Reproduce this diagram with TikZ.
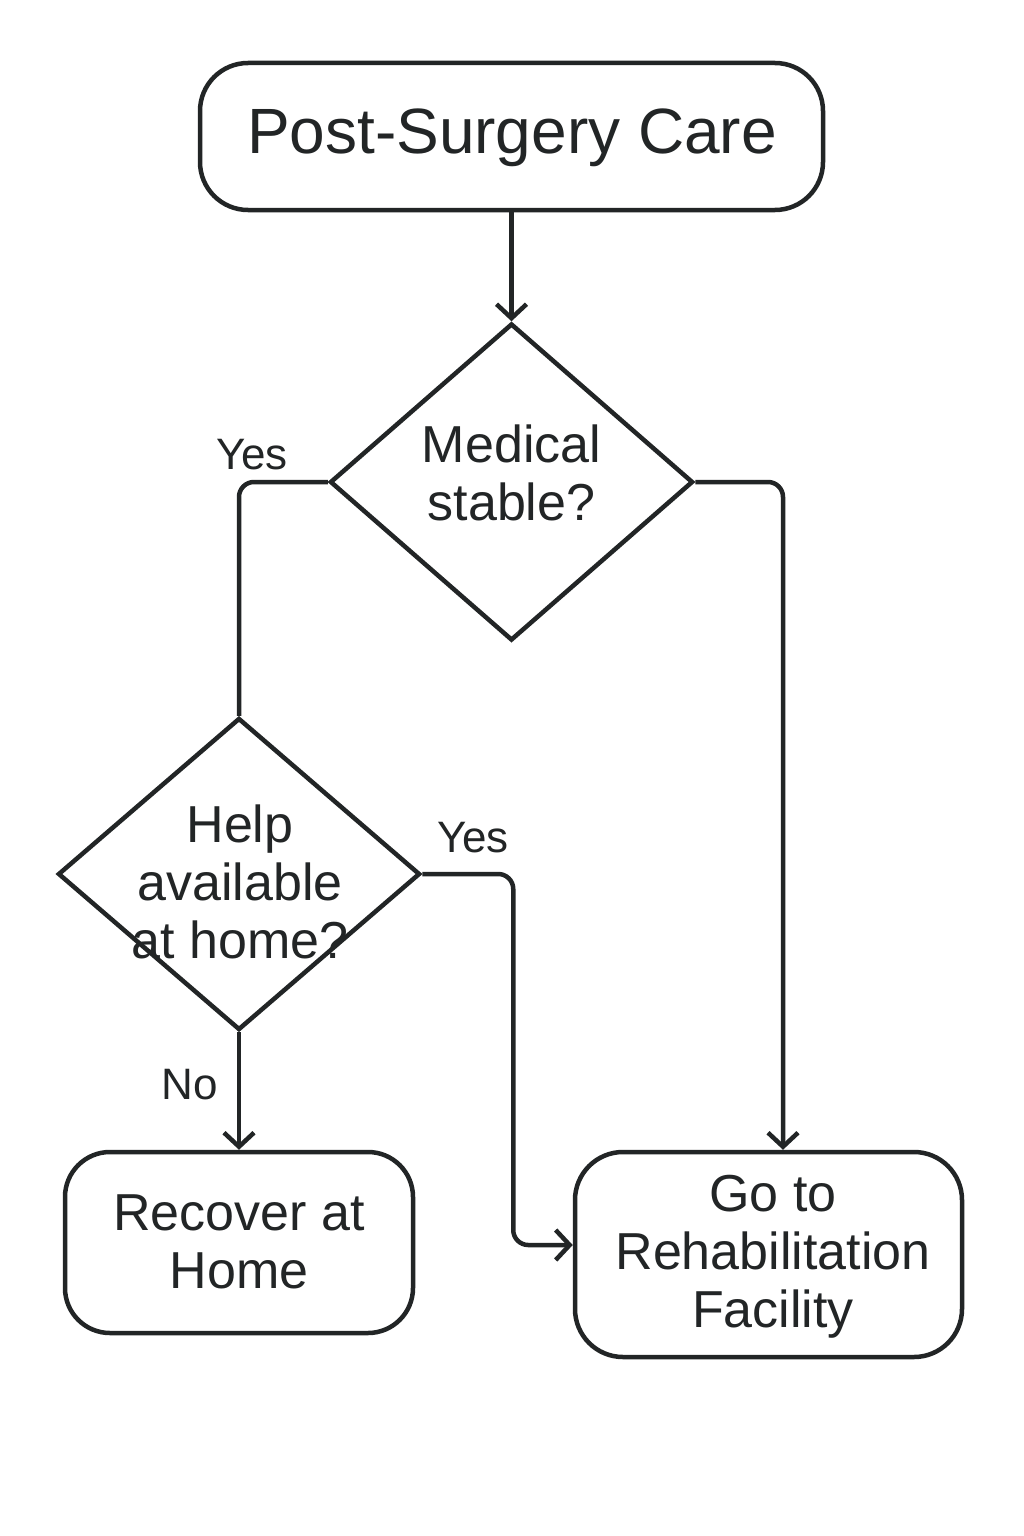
\documentclass[tikz,border=0pt]{standalone}
\usepackage{fontspec}
\setmainfont{Liberation Sans}
\usetikzlibrary{shapes.geometric,arrows.meta,calc}
\definecolor{ink}{HTML}{222526}
\tikzset{
  box/.style={draw=ink, line width=4.5pt, rounded corners=48pt, inner sep=0pt},
  dia/.style={draw=ink, line width=4.5pt, diamond, inner sep=0pt},
  txt/.style={align=center, text=ink, inner sep=0pt, font=\fontsize{52}{58}\selectfont},
  lbl/.style={text=ink, inner sep=0pt, font=\fontsize{44}{50}\selectfont},
  arr/.style={draw=ink, line width=4.5pt, -{Straight Barb[length=14pt,width=30pt,line width=4.5pt]}},
  con/.style={draw=ink, line width=4.5pt, rounded corners=15pt},
}
\begin{document}
\begin{tikzpicture}[x=1pt,y=-1pt]
\useasboundingbox (0,0) rectangle (1024,1536);
\fill[white] (0,0) rectangle (1024,1536);
% nodes
\node[box, minimum width=623pt, minimum height=147pt] (top) at (511.5,136.5) {};
\node[txt, font=\fontsize{64}{70}\selectfont] (topt) at (512,138) {Post-Surgery Care};
\node[dia, minimum width=363pt, minimum height=317pt] (d1) at (511.5,482) {};
\node[txt] (d1t) at (511.5,473) {Medical\\stable?};
\node[dia, minimum width=362pt, minimum height=312pt] (d2) at (239,874) {};
\node[txt] (d2t) at (240,882) {Help\\available\\at home?};
\node[box, minimum width=348pt, minimum height=181pt, rounded corners=45pt] (b3) at (239,1242.5) {};
\node[txt] (b3t) at (239,1242) {Recover at\\Home};
\node[box, minimum width=387pt, minimum height=205pt, rounded corners=48pt] (b4) at (768.5,1254.5) {};
\node[txt] (b4t) at (773,1257) {Go to\\Rehabilitation\\Facility};
% labels
\node[lbl] (y1) at (252,455) {Yes};
\node[lbl] (y2) at (473,838) {Yes};
\node[lbl] (n1) at (190,1085) {No};
% connectors
\draw[arr] (top.south) -- (d1.north);
\draw[con] (d1.west) -| (d2.north);
\coordinate (b4top) at ($(b4.north)+(14.5,0)$);
\draw[arr, rounded corners=15pt] (d1.east) -| (b4top);
\coordinate (b4left) at ($(b4.west)+(0,-9.5)$);
\draw[arr, rounded corners=15pt] (d2.east) -- ++(91,0) |- (b4left);
\draw[arr] (d2.south) -- (b3.north);
\end{tikzpicture}
\end{document}
